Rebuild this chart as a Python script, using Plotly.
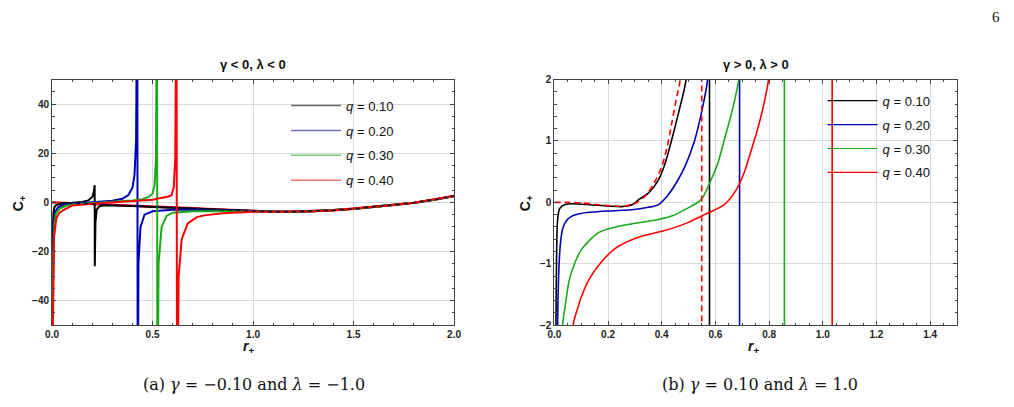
import plotly.graph_objects as go

# ---------------- Left panel data (gamma<0, lambda<0) ----------------
tail_r = [1.1, 1.2, 1.3, 1.4, 1.5, 1.6, 1.7, 1.8, 1.9, 2.0]
tail_c = [-3.8, -3.8, -3.6, -3.2, -2.6, -1.9, -1.1, -0.2, 1.1, 2.6]

ref_a_r = [0.0, 0.1, 0.2, 0.3, 0.4, 0.5, 0.6, 0.7, 0.8, 0.9, 1.0]
ref_a_c = [0.0, -0.3, -0.6, -0.95, -1.3, -1.65, -2.0, -2.4, -2.8, -3.2, -3.55]

a_q1_r = [0.0005, 0.002, 0.004, 0.007, 0.012, 0.02, 0.05, 0.1, 0.15, 0.18, 0.2, 0.207, 0.212,
          0.2125, 0.216, 0.222, 0.235, 0.26, 0.3, 0.4, 0.5, 0.6, 0.7, 0.8, 0.9, 1.0]
a_q1_c = [-60, -30, -10, -4, -2, -1.1, -0.5, -0.2, 0.2, 0.8, 2.2, 4, 7,
          -26, -8, -3, -1.6, -1.2, -1.2, -1.5, -1.85, -2.2, -2.6, -3.0, -3.3, -3.6]

a_q2_r = [0.001, 0.004, 0.008, 0.015, 0.03, 0.06, 0.1, 0.2, 0.3, 0.35, 0.38, 0.40, 0.41, 0.418, 0.424,
          0.426, 0.43, 0.44, 0.46, 0.5, 0.6, 0.7, 0.8, 0.9, 1.0]
a_q2_c = [-60, -20, -8, -4, -2, -1.0, -0.5, 0.1, 0.7, 1.5, 3, 6, 11, 25, 100,
          -100, -25, -10, -5, -3.6, -3.0, -3.0, -3.2, -3.4, -3.6]

a_q3_r = [0.002, 0.006, 0.012, 0.02, 0.04, 0.07, 0.1, 0.2, 0.3, 0.4, 0.45, 0.48, 0.5, 0.51, 0.517, 0.522,
          0.524, 0.53, 0.545, 0.57, 0.6, 0.7, 0.8, 0.9, 1.0]
a_q3_c = [-60, -20, -8, -4.5, -2.4, -1.4, -0.9, -0.2, 0.3, 0.8, 1.3, 2.2, 3.5, 7, 18, 100,
          -100, -25, -10, -5.5, -4.2, -3.6, -3.5, -3.6, -3.7]

a_q4_r = [0.003, 0.005, 0.01, 0.021, 0.035, 0.054, 0.1, 0.2, 0.3, 0.4, 0.5, 0.528, 0.56, 0.58, 0.594,
          0.605, 0.613, 0.619, 0.622, 0.63, 0.645, 0.675, 0.72, 0.757, 0.85, 0.92, 1.0]
a_q4_c = [-60, -38, -14, -6.6, -4.4, -3.3, -1.3, -0.6, 0.0, 0.5, 1.1, 1.6, 2.0, 2.4, 2.9,
          6, 18, 100, -100, -30, -15, -8.6, -6, -5.3, -4.4, -4.0, -3.8]

# ---------------- Right panel data (gamma>0, lambda>0) ----------------
ref_b_r = [0.0, 0.05, 0.104, 0.166, 0.22, 0.264, 0.3, 0.338, 0.37, 0.399, 0.42, 0.436, 0.455, 0.469,
           0.5, 0.53, 0.548, 0.550, 0.57]
ref_b_c = [0.0, -0.0, -0.01, -0.04, -0.06, -0.06, -0.02, 0.1, 0.3, 0.57, 0.9, 1.26, 1.7, 2.0,
           4, 12, 300, -300, -20]

b_q1_r = [0.004, 0.006, 0.008, 0.012, 0.02, 0.043, 0.1, 0.2, 0.25, 0.289, 0.313, 0.35, 0.387, 0.41,
          0.436, 0.465, 0.491, 0.53, 0.56, 0.577, 0.579, 0.6]
b_q1_c = [-3, -2, -1, -0.3, -0.1, -0.03, -0.03, -0.06, -0.07, -0.04, 0.04, 0.15, 0.36, 0.6,
          1.0, 1.5, 2.0, 4, 15, 300, -300, -20]

b_q2_r = [0.01, 0.012, 0.016, 0.022, 0.031, 0.045, 0.067, 0.1, 0.2, 0.289, 0.35, 0.387, 0.42, 0.46,
          0.49, 0.522, 0.55, 0.571, 0.62, 0.67, 0.689, 0.691, 0.72]
b_q2_c = [-3, -2, -1.2, -0.7, -0.43, -0.3, -0.22, -0.18, -0.14, -0.12, -0.08, -0.04, 0.1, 0.36,
          0.62, 1.0, 1.5, 2.0, 5, 20, 300, -300, -20]

b_q3_r = [0.028, 0.031, 0.04, 0.055, 0.075, 0.104, 0.166, 0.23, 0.289, 0.387, 0.44, 0.485, 0.546,
          0.583, 0.61, 0.632, 0.66, 0.687, 0.75, 0.83, 0.856, 0.858, 0.9]
b_q3_c = [-3, -2, -1.7, -1.28, -1.0, -0.75, -0.49, -0.4, -0.35, -0.28, -0.22, -0.12, 0.04,
          0.36, 0.65, 1.0, 1.45, 2.0, 5, 30, 300, -300, -20]

b_q4_r = [0.068, 0.07, 0.085, 0.104, 0.13, 0.166, 0.227, 0.313, 0.411, 0.497, 0.559, 0.632, 0.67,
          0.706, 0.73, 0.755, 0.778, 0.798, 0.9, 1.0, 1.034, 1.036, 1.1]
b_q4_c = [-3, -2, -1.75, -1.5, -1.25, -1.02, -0.75, -0.57, -0.46, -0.33, -0.2, -0.04, 0.15,
          0.47, 0.8, 1.16, 1.55, 2.0, 6, 30, 300, -300, -20]

q_labels = ["0.10", "0.20", "0.30", "0.40"]
colors = ["#000000", "#0000b4", "#1aaa1a", "#ff0000"]
legend_a_colors = ["#666666", "#7070c8", "#70cc70", "#ff7070"]

W, H = 1014, 407

fig = go.Figure()

# left panel
fig.add_trace(go.Scatter(x=ref_a_r + tail_r, y=ref_a_c + tail_c, mode="lines",
                         line=dict(color="#ff0000", width=2.4), showlegend=False, xaxis="x", yaxis="y"))
a_sets = [(a_q1_r, a_q1_c), (a_q2_r, a_q2_c), (a_q3_r, a_q3_c), (a_q4_r, a_q4_c)]
for (rr, cc), col in zip(a_sets, colors):
    fig.add_trace(go.Scatter(x=rr + tail_r, y=cc + tail_c, mode="lines",
                             line=dict(color=col, width=2), showlegend=False, xaxis="x", yaxis="y"))
fig.add_trace(go.Scatter(x=ref_a_r + tail_r, y=ref_a_c + tail_c, mode="lines",
                         line=dict(color="#111133", width=1.5, dash="4px,4px"), showlegend=False,
                         xaxis="x", yaxis="y"))
for i, (lab, col) in enumerate(zip(q_labels, legend_a_colors)):
    fig.add_trace(go.Scatter(x=[None], y=[None], mode="lines", line=dict(color=col, width=1.5),
                             name="<i>q</i> = " + lab, legend="legend", legendgroup="a" + str(i),
                             xaxis="x", yaxis="y"))


# right panel: smooth branch up to the pole, straight segment across the pole
def add_right(rr, cc, col, dash=None):
    j = next(k for k, v in enumerate(cc) if v >= 300)
    fig.add_trace(go.Scatter(x=rr[:j + 1], y=cc[:j + 1], mode="lines",
                             line=dict(color=col, width=1.6, dash=dash, shape="spline", smoothing=0.8),
                             showlegend=False, xaxis="x2", yaxis="y2"))
    fig.add_trace(go.Scatter(x=rr[j:], y=cc[j:], mode="lines",
                             line=dict(color=col, width=1.6, dash=dash),
                             showlegend=False, xaxis="x2", yaxis="y2"))


b_sets = [(b_q1_r, b_q1_c), (b_q2_r, b_q2_c), (b_q3_r, b_q3_c), (b_q4_r, b_q4_c)]
for (rr, cc), col in zip(b_sets, colors):
    add_right(rr, cc, col)
add_right(ref_b_r, ref_b_c, "#ff0000", dash="6px,4px")
for i, (lab, col) in enumerate(zip(q_labels, colors)):
    fig.add_trace(go.Scatter(x=[None], y=[None], mode="lines", line=dict(color=col, width=1.2),
                             name="<i>q</i> = " + lab, legend="legend2", legendgroup="b" + str(i),
                             xaxis="x2", yaxis="y2"))

tickfont = dict(family="Liberation Sans", size=10, color="#222222", weight="bold")
axis_common = dict(showline=True, linecolor="#444444", linewidth=1, mirror="ticks",
                   ticks="inside", ticklen=4, tickcolor="#444444", tickwidth=1,
                   showgrid=True, gridcolor="#dadada", gridwidth=1, zeroline=False,
                   tickfont=tickfont)

ytop, ybot = 76.7, 329.0
ydom = [1 - ybot / H, 1 - ytop / H]

fig.update_layout(
    width=W, height=H, margin=dict(l=0, r=0, t=0, b=0),
    paper_bgcolor="white", plot_bgcolor="white",
    xaxis=dict(domain=[45.7 / W, 453.3 / W], range=[0, 2.0], dtick=0.5, tick0=0, tickformat=".1f",
               minor=dict(ticks="inside", ticklen=2.5, dtick=0.1, tickcolor="#444444", showgrid=False),
               anchor="y", **axis_common),
    yaxis=dict(domain=ydom, range=[-50, 50], dtick=20, tick0=0,
               minor=dict(ticks="inside", ticklen=2.5, dtick=5, tickcolor="#444444", showgrid=False),
               anchor="x", **axis_common),
    xaxis2=dict(domain=[555 / W, 963.3 / W], range=[0, 1.5], dtick=0.2, tick0=0, tickformat=".1f",
                minor=dict(ticks="inside", ticklen=2.5, dtick=0.05, tickcolor="#444444", showgrid=False),
                anchor="y2", **axis_common),
    yaxis2=dict(domain=ydom, range=[-2, 2], dtick=1, tick0=0,
                minor=dict(ticks="inside", ticklen=2.5, dtick=0.2, tickcolor="#444444", showgrid=False),
                anchor="x2", **axis_common),
    legend=dict(x=283 / W, y=1 - 88 / H, xanchor="left", yanchor="top", bgcolor="rgba(0,0,0,0)",
                font=dict(family="Liberation Sans", size=13, color="#111111"),
                tracegroupgap=5, itemwidth=50),
    legend2=dict(x=827 / W, y=1 - 83 / H, xanchor="left", yanchor="top", bgcolor="rgba(0,0,0,0)",
                 font=dict(family="Liberation Sans", size=13, color="#111111"),
                 tracegroupgap=4, itemwidth=50),
)

ann = []
title_font = dict(family="Liberation Sans", size=13, color="#111111", weight="bold")
ann.append(dict(text="γ < 0, λ < 0", x=249.5 / W, y=1 - 60.7 / H, xref="paper", yref="paper",
                showarrow=False, font=title_font, xanchor="center", yanchor="middle"))
ann.append(dict(text="γ > 0, λ > 0", x=759 / W, y=1 - 60.7 / H, xref="paper", yref="paper",
                showarrow=False, font=title_font, xanchor="center", yanchor="middle"))
lab_font = dict(family="Liberation Sans", size=14, color="#111111", weight="bold")
for xp in (13, 527):
    ann.append(dict(text="C<sub>+</sub>", x=xp / W, y=1 - 204 / H, xref="paper", yref="paper",
                    showarrow=False, font=lab_font, textangle=-90, xanchor="center", yanchor="middle"))
for xp in (245, 757):
    ann.append(dict(text="<i>r</i><sub>+</sub>", x=xp / W, y=1 - 352 / H, xref="paper", yref="paper",
                    showarrow=False, font=lab_font, xanchor="center", yanchor="middle"))
cap_font = dict(family="DejaVu Serif", size=16, color="#111111")
ann.append(dict(text="(a) <i>γ</i> = −0.10 and <i>λ</i> = −1.0",
                x=250 / W, y=1 - 390 / H,
                xref="paper", yref="paper", showarrow=False, font=cap_font,
                xanchor="center", yanchor="middle"))
ann.append(dict(text="(b) <i>γ</i> = 0.10 and <i>λ</i> = 1.0",
                x=764 / W, y=1 - 390 / H,
                xref="paper", yref="paper", showarrow=False, font=cap_font,
                xanchor="center", yanchor="middle"))
ann.append(dict(text="6", x=1003 / W, y=1 - 12 / H, xref="paper", yref="paper", showarrow=False,
                font=dict(family="Liberation Serif", size=15, color="#111111"),
                xanchor="center", yanchor="middle"))
fig.update_layout(annotations=ann)

fig.write_html("out.html")
